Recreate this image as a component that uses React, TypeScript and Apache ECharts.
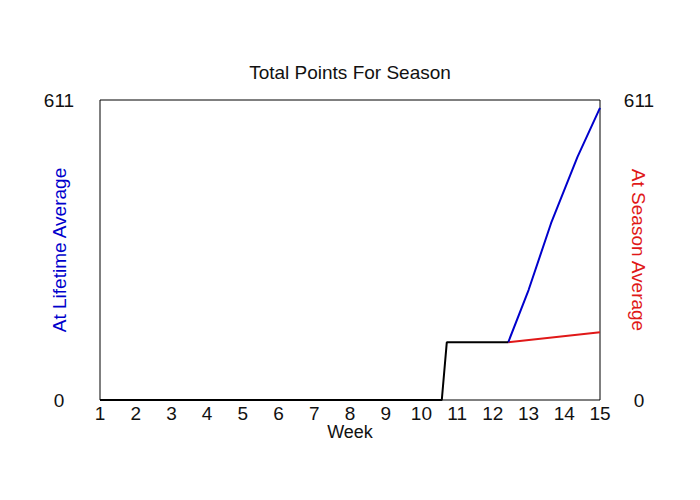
import React, { useEffect, useRef } from "react";
import * as echarts from "echarts";

const title = "Total Points For Season";
const xName = "Week";
const leftName = "At Lifetime Average";
const rightName = "At Season Average";
const yMax = 611;

const weeklyTotal: [number, number][] = [
  [1, 0],
  [10.57, 0],
  [10.71, 117.5],
  [12.43, 117.5],
];
const lifetimeProjection: [number, number][] = [
  [12.43, 117.5],
  [13.0, 224],
  [13.63, 360],
  [14.37, 495],
  [15, 595],
];
const seasonProjection: [number, number][] = [
  [12.43, 117.5],
  [15, 138],
];

const FONT = "'Liberation Sans', Arial, sans-serif";
const BLUE = "#0000cc";
const RED = "#e01818";

export default function App() {
  const ref = useRef<HTMLDivElement>(null);
  useEffect(() => {
    document.body.style.margin = "0";
    const chart = echarts.init(ref.current!, undefined, { renderer: "svg" });
    const labelStyle = { color: "#111", fontSize: 19, fontFamily: FONT };
    chart.setOption({
      animation: false,
      backgroundColor: "#fff",
      title: {
        text: title,
        left: "center",
        top: 58,
        textStyle: { color: "#111", fontSize: 19, fontWeight: "normal", fontFamily: FONT },
      },
      grid: {
        left: 100,
        right: 100,
        top: 100,
        bottom: 100,
        show: true,
        borderColor: "#000",
        borderWidth: 1,
        backgroundColor: "transparent",
      },
      xAxis: {
        type: "value",
        min: 1,
        max: 15,
        interval: 1,
        name: xName,
        nameLocation: "middle",
        nameGap: 23,
        nameMoveOverlap: false,
        nameTextStyle: { ...labelStyle, fontSize: 18 },
        axisLine: { show: false },
        axisTick: { show: false },
        splitLine: { show: false },
        axisLabel: { ...labelStyle, margin: 4 },
      },
      yAxis: [
        {
          type: "value",
          position: "left",
          min: 0,
          max: yMax,
          interval: yMax,
          name: leftName,
          nameLocation: "middle",
          nameRotate: 90,
          nameGap: 31,
          nameMoveOverlap: false,
          nameTextStyle: { ...labelStyle, color: BLUE },
          axisLine: { show: false },
          axisTick: { show: false },
          splitLine: { show: false },
          axisLabel: { ...labelStyle, align: "center", margin: 41 },
        },
        {
          type: "value",
          position: "right",
          min: 0,
          max: yMax,
          interval: yMax,
          name: rightName,
          nameLocation: "middle",
          nameRotate: -90,
          nameGap: 29,
          nameMoveOverlap: false,
          nameTextStyle: { ...labelStyle, color: RED },
          axisLine: { show: false },
          axisTick: { show: false },
          splitLine: { show: false },
          axisLabel: { ...labelStyle, align: "center", margin: 39 },
        },
      ],
      series: [
        {
          type: "line",
          data: seasonProjection,
          symbol: "none",
          lineStyle: { color: RED, width: 2 },
          z: 3,
        },
        {
          type: "line",
          data: lifetimeProjection,
          symbol: "none",
          lineStyle: { color: BLUE, width: 2 },
          z: 3,
        },
        {
          type: "line",
          data: weeklyTotal,
          symbol: "none",
          lineStyle: { color: "#000", width: 2 },
          z: 4,
        },
      ],
    });
    return () => chart.dispose();
  }, []);
  return <div ref={ref} style={{ width: 700, height: 500 }} />;
}
